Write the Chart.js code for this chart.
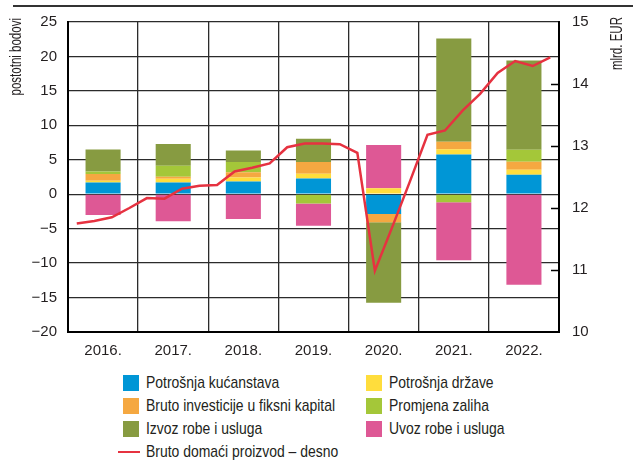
<!DOCTYPE html>
<html>
<head>
<meta charset="utf-8">
<script src="https://cdn.jsdelivr.net/npm/chart.js@4"></script>
<style>
  body { margin: 0; background: #fff; }
  #wrap { position: relative; width: 633px; height: 463px; font-family: "Liberation Sans", Arial, sans-serif; color: #231f20; }
  #topline { position: absolute; left: 13px; right: 0; top: 5px; border-top: 2px solid #333; }
  #chart { position: absolute; left: 0; top: 0; }
  .leg { position: absolute; font-size: 17px; line-height: 18px; white-space: nowrap; }
  .leg .box { position: absolute; left: 0; top: 1px; width: 16px; height: 16px; }
  .leg .ln { position: absolute; left: -5px; top: 8px; width: 22px; height: 2px; background: #e63240; }
  .leg span { position: absolute; left: 23px; top: 0; transform: scaleX(0.82); transform-origin: 0 0; }
</style>
</head>
<body>
<div id="wrap">
  <div id="topline"></div>
  <canvas id="chart" width="633" height="368"></canvas>
  <div id="legend"></div>
</div>
<script>
// categories
const years = ['2016.', '2017.', '2018.', '2019.', '2020.', '2021.', '2022.'];
const quarters = ['16Q1','16Q2','16Q3','16Q4','17Q1','17Q2','17Q3','17Q4','18Q1','18Q2','18Q3','18Q4',
                  '19Q1','19Q2','19Q3','19Q4','20Q1','20Q2','20Q3','20Q4','21Q1','21Q2','21Q3','21Q4',
                  '22Q1','22Q2','22Q3','22Q4'];

// contributions, postotni bodovi
const kucanstva  = [1.7, 1.7, 1.85, 2.3, -2.87, 5.76, 2.82];
const drzava     = [0.25, 0.55, 0.58, 0.67, 0.85, 0.78, 0.72];
const investicije = [1.0, 0.3, 0.75, 1.7, -1.2, 1.06, 1.16];
const zalihe     = [0.35, 1.6, 1.5, -1.35, 0, -1.15, 1.74];
const izvoz      = [3.2, 3.15, 1.65, 3.4, -11.7, 15.0, 12.98];
const uvoz       = [-3.0, -3.93, -3.6, -3.24, 6.3, -8.44, -13.14];

// BDP, mlrd. EUR (quarterly)
const bdp = [11.75, 11.79, 11.85, 12.0, 12.16, 12.15, 12.31, 12.36, 12.37, 12.59, 12.65, 12.72,
             12.98, 13.04, 13.04, 13.03, 12.89, 10.99, 11.70, 12.43, 13.18, 13.25, 13.57, 13.84,
             14.18, 14.37, 14.29, 14.43];

// tick labels
const leftTicks = ['−20', '−15', '−10', '−5', '0', '5', '10', '15', '20', '25'];
const rightTicks = ['10', '11', '12', '13', '14', '15'];

const txt = '#231f20';
const fontFam = '"Liberation Sans", Arial, sans-serif';
const gridCol = '#2b2b2b';

const series = [
    { label: 'Potrošnja kućanstava', data: kucanstva, color: '#0096d6' },
    { label: 'Potrošnja države', data: drzava, color: '#ffdd3c' },
    { label: 'Bruto investicije u fiksni kapital', data: investicije, color: '#f5a841' },
    { label: 'Promjena zaliha', data: zalihe, color: '#a4c739' },
    { label: 'Izvoz robe i usluga', data: izvoz, color: '#879b41' },
    { label: 'Uvoz robe i usluga', data: uvoz, color: '#de5895' }
];

const datasets = series.map(s => ({
    type: 'bar',
    label: s.label,
    data: s.data,
    backgroundColor: s.color,
    borderWidth: 0,
    grouped: false,
    categoryPercentage: 1,
    barPercentage: 0.5,
    xAxisID: 'x',
    yAxisID: 'y',
    order: 1
}));

datasets.push({
    type: 'line',
    label: 'Bruto domaći proizvod – desno',
    data: bdp,
    borderColor: '#e63240',
    borderWidth: 2.5,
    pointRadius: 0,
    tension: 0,
    xAxisID: 'x2',
    yAxisID: 'y2',
    order: 0
});

// rotated axis titles at the top and small inner ticks on the right axis
const extras = {
    id: 'extras',
    afterDraw(chart) {
        const ctx = chart.ctx;
        ctx.save();
        ctx.fillStyle = txt;
        ctx.font = '16px ' + fontFam;
        ctx.textAlign = 'right';
        ctx.textBaseline = 'middle';
        [['postotni bodovi', 17, 18], ['mlrd. EUR', 618, 17]].forEach(t => {
            ctx.save();
            ctx.translate(t[1], t[2]);
            ctx.rotate(-Math.PI / 2);
            ctx.scale(0.72, 1);
            ctx.fillText(t[0], 0, 0);
            ctx.restore();
        });
        const y2 = chart.scales.y2;
        const right = chart.chartArea.right;
        ctx.strokeStyle = '#000';
        ctx.lineWidth = 1.5;
        [11, 12, 13, 14].forEach(v => {
            const py = Math.round(y2.getPixelForValue(v)) + 0.5;
            ctx.beginPath();
            ctx.moveTo(right - 8, py);
            ctx.lineTo(right, py);
            ctx.stroke();
        });
        ctx.restore();
    }
};

new Chart(document.getElementById('chart'), {
    data: { labels: years, datasets: datasets },
    options: {
        responsive: false,
        animation: false,
        layout: { padding: { top: 21, left: 0, right: 0, bottom: 0 } },
        plugins: { legend: { display: false }, tooltip: { enabled: false } },
        scales: {
            x: {
                stacked: true,
                offset: true,
                grid: { offset: true, color: gridCol, lineWidth: 1.3, drawTicks: false },
                border: { display: true, color: '#000', width: 2 },
                ticks: { color: txt, font: { family: fontFam, size: 15 }, padding: 10 },
                afterFit: s => { s.height = 36; }
            },
            x2: {
                type: 'category',
                labels: quarters,
                offset: true,
                display: false
            },
            y: {
                stacked: true,
                position: 'left',
                min: -20,
                max: 25,
                ticks: {
                    stepSize: 5,
                    color: txt,
                    font: { family: fontFam, size: 15 },
                    padding: 11,
                    callback: (v, i) => leftTicks[i]
                },
                grid: { color: gridCol, lineWidth: 1.3, drawTicks: false },
                border: { display: true, color: '#000', width: 2 },
                afterFit: s => { s.width = 68; }
            },
            y2: {
                position: 'right',
                min: 10,
                max: 15,
                ticks: {
                    stepSize: 1,
                    color: txt,
                    font: { family: fontFam, size: 15 },
                    padding: 13,
                    callback: (v, i) => rightTicks[i]
                },
                grid: { drawOnChartArea: false, drawTicks: false },
                border: { display: true, color: '#000', width: 2 },
                afterFit: s => { s.width = 74; }
            }
        }
    },
    plugins: [extras]
});

// legend, two columns row by row, line entry last
const legend = document.getElementById('legend');
const legPos = [[123, 374], [366, 374], [123, 397], [366, 397], [123, 420], [366, 420]];
series.forEach((s, i) => {
    const el = document.createElement('div');
    el.className = 'leg';
    el.style.left = legPos[i][0] + 'px';
    el.style.top = legPos[i][1] + 'px';
    el.innerHTML = '<div class="box" style="background:' + s.color + '"></div><span>' + s.label + '</span>';
    legend.appendChild(el);
});
const lineLeg = document.createElement('div');
lineLeg.className = 'leg';
lineLeg.style.left = '123px';
lineLeg.style.top = '443px';
lineLeg.innerHTML = '<div class="ln"></div><span>Bruto domaći proizvod – desno</span>';
legend.appendChild(lineLeg);
</script>
</body>
</html>
